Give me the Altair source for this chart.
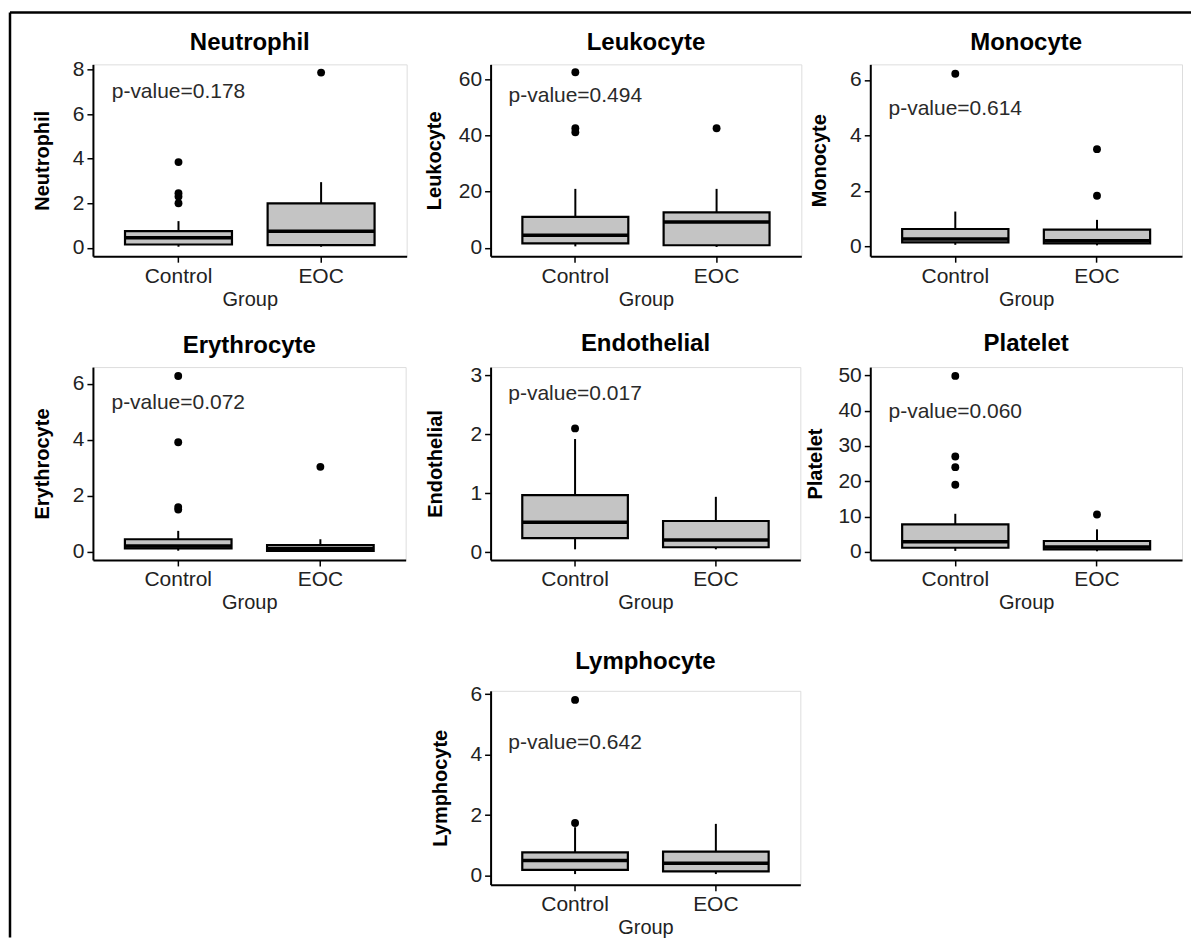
import altair as alt
import pandas as pd

FONT = "Liberation Sans"

markers = ["Neutrophil", "Leukocyte", "Monocyte", "Erythrocyte",
           "Endothelial", "Platelet", "Lymphocyte"]
groups = ["Control", "EOC"]

# box statistics, [Control, EOC]
whisker_low = {"Neutrophil": [0.05, 0.05], "Leukocyte": [0.5, 0.3], "Monocyte": [0.05, 0.03],
               "Erythrocyte": [0.03, 0.0], "Endothelial": [0.05, 0.05], "Platelet": [0.3, 0.2],
               "Lymphocyte": [0.05, 0.05]}
q1 = {"Neutrophil": [0.15, 0.12], "Leukocyte": [1.6, 0.9], "Monocyte": [0.14, 0.1],
      "Erythrocyte": [0.11, 0.02], "Endothelial": [0.24, 0.085], "Platelet": [1.2, 0.75],
      "Lymphocyte": [0.19, 0.14]}
median = {"Neutrophil": [0.45, 0.75], "Leukocyte": [4.5, 9.2], "Monocyte": [0.26, 0.2],
          "Erythrocyte": [0.2, 0.1], "Endothelial": [0.51, 0.21], "Platelet": [2.9, 1.4],
          "Lymphocyte": [0.5, 0.41]}
q3 = {"Neutrophil": [0.75, 2.0], "Leukocyte": [11.0, 12.6], "Monocyte": [0.62, 0.6],
      "Erythrocyte": [0.44, 0.23], "Endothelial": [0.97, 0.53], "Platelet": [7.8, 3.1],
      "Lymphocyte": [0.77, 0.79]}
whisker_high = {"Neutrophil": [1.2, 2.95], "Leukocyte": [21.0, 21.0], "Monocyte": [1.25, 0.95],
                "Erythrocyte": [0.74, 0.44], "Endothelial": [1.92, 0.94], "Platelet": [10.8, 6.4],
                "Lymphocyte": [1.6, 1.71]}
outliers_control = {"Neutrophil": [3.85, 2.45, 2.3, 2.0], "Leukocyte": [62.6, 42.6, 41.2],
                    "Monocyte": [6.22], "Erythrocyte": [6.28, 3.91, 1.59, 1.5],
                    "Endothelial": [2.1], "Platelet": [49.8, 27.0, 24.0, 19.0],
                    "Lymphocyte": [5.81, 1.74]}
outliers_eoc = {"Neutrophil": [7.87], "Leukocyte": [42.6], "Monocyte": [3.5, 1.82],
                "Erythrocyte": [3.03], "Endothelial": [], "Platelet": [10.6], "Lymphocyte": []}

p_values = {"Neutrophil": "0.178", "Leukocyte": "0.494", "Monocyte": "0.614",
            "Erythrocyte": "0.072", "Endothelial": "0.017", "Platelet": "0.060",
            "Lymphocyte": "0.642"}
p_label_y = {"Neutrophil": 7.0, "Leukocyte": 54.0, "Monocyte": 4.95, "Erythrocyte": 5.3,
             "Endothelial": 2.68, "Platelet": 39.7, "Lymphocyte": 4.4}

y_domains = {"Neutrophil": [-0.375, 8.24], "Leukocyte": [-3.0, 65.4], "Monocyte": [-0.36, 6.56],
             "Erythrocyte": [-0.30, 6.6], "Endothelial": [-0.13, 3.14], "Platelet": [-2.25, 52.3],
             "Lymphocyte": [-0.30, 6.11]}
y_ticks = {"Neutrophil": [0, 2, 4, 6, 8], "Leukocyte": [0, 20, 40, 60], "Monocyte": [0, 2, 4, 6],
           "Erythrocyte": [0, 2, 4, 6], "Endothelial": [0, 1, 2, 3],
           "Platelet": [0, 10, 20, 30, 40, 50], "Lymphocyte": [0, 2, 4, 6]}

panel_w = {"Neutrophil": 314, "Leukocyte": 311, "Monocyte": 312, "Erythrocyte": 313,
           "Endothelial": 310, "Platelet": 312, "Lymphocyte": 310}
panel_h = {"Neutrophil": 192, "Leukocyte": 192, "Monocyte": 192, "Erythrocyte": 193,
           "Endothelial": 193, "Platelet": 193, "Lymphocyte": 194}
title_dy = {"Neutrophil": 5, "Leukocyte": 0, "Monocyte": 0, "Erythrocyte": 0,
            "Endothelial": 1, "Platelet": 1, "Lymphocyte": 0}
ytitle_pad = {"Neutrophil": 20, "Leukocyte": 14, "Monocyte": 20, "Erythrocyte": 20,
              "Endothelial": 24, "Platelet": 12, "Lymphocyte": 19}


def panel(m):
    box = pd.DataFrame({"group": groups, "lo": whisker_low[m], "q1": q1[m],
                        "med": median[m], "q3": q3[m], "hi": whisker_high[m]})
    out = pd.DataFrame({"group": ["Control"] * len(outliers_control[m]) + ["EOC"] * len(outliers_eoc[m]),
                        "value": outliers_control[m] + outliers_eoc[m]})
    lab = pd.DataFrame({"group": ["Control"], "y": [p_label_y[m]],
                        "label": ["p-value=" + p_values[m]]})

    xscale = alt.Scale(type="band", domain=groups, paddingInner=0.25, paddingOuter=0.225)
    yscale = alt.Scale(domain=y_domains[m], nice=False, zero=False)
    xaxis = alt.Axis(title="Group", labelAngle=0, grid=False, domainColor="black", domainWidth=2,
                     tickColor="black", tickWidth=1.5, tickSize=6, labelFont=FONT, labelFontSize=21,
                     labelColor="#222222", labelPadding=3, titleFont=FONT, titleFontSize=20,
                     titleFontWeight="normal", titleColor="#222222", titlePadding=3)
    yaxis = alt.Axis(title=m, values=y_ticks[m], grid=False, domainColor="black", domainWidth=2,
                     tickColor="black", tickWidth=1.5, tickSize=6, labelFont=FONT, labelFontSize=21,
                     labelColor="#222222", labelPadding=3, titleFont=FONT, titleFontSize=20,
                     titleFontWeight="bold", titleColor="black", titlePadding=ytitle_pad[m])

    def X():
        return alt.X("group:N", scale=xscale, axis=xaxis)

    def Y(field):
        return alt.Y(field, type="quantitative", scale=yscale, axis=yaxis)

    whisk = alt.Chart(box).mark_rule(color="black", strokeWidth=2).encode(
        x=X(), y=Y("lo"), y2="hi:Q")
    rect = alt.Chart(box).mark_bar(fill="#c4c4c4", stroke="black", strokeWidth=2.2).encode(
        x=X(), y=Y("q1"), y2="q3:Q")
    med = alt.Chart(box).mark_bar(fill="black", stroke="black", strokeWidth=3.5).encode(
        x=X(), y=Y("med"), y2="med:Q")
    pts = alt.Chart(out).mark_circle(color="black", size=62, opacity=1).encode(
        x=X(), y=Y("value"))
    txt = alt.Chart(lab).mark_text(font=FONT, fontSize=21, color="#2a2a2a").encode(
        x=X(), y=Y("y"), text="label:N")

    return alt.layer(whisk, rect, med, pts, txt).properties(
        width=panel_w[m], height=panel_h[m],
        title=alt.TitleParams(text=m, font=FONT, fontSize=24, fontWeight="bold", color="black",
                              anchor="middle", frame="group", offset=9, dy=title_dy[m]))


def spacer(w, h, frame=False):
    base = alt.Chart(pd.DataFrame({"a": [0]}))
    layers = [base.mark_point(opacity=0).encode(x=alt.value(0), y=alt.value(0))]
    if frame:
        # outer figure frame (top and left edges), drawn relative to this cell
        layers.append(base.mark_rule(color="black", strokeWidth=2.5).encode(
            x=alt.value(-397), y=alt.value(-52), y2=alt.value(874)))
        layers.append(base.mark_rule(color="black", strokeWidth=2.5).encode(
            x=alt.value(-397), x2=alt.value(785), y=alt.value(-52)))
    return alt.layer(*layers).properties(width=w, height=h,
                                         view=alt.ViewBackground(stroke="transparent"))


# grid of 5 columns: panel | gap | panel | gap | panel
cells = [
    panel("Neutrophil"), spacer(84, 192, frame=True), panel("Leukocyte"), spacer(69, 192), panel("Monocyte"),
    panel("Erythrocyte"), spacer(84, 213), panel("Endothelial"), spacer(69, 193), panel("Platelet"),
    spacer(10, 194), spacer(10, 194), panel("Lymphocyte"),
]

chart = alt.concat(
    *cells, columns=5, align="each", bounds="flush",
    spacing=alt.RowColnumber(row=111, column=0),
).properties(
    padding={"left": 0, "top": 2, "right": 0, "bottom": 0}
).configure_view(
    stroke="#666666", strokeWidth=1.2
).configure(background="white")

chart.save("out.html", embed_options={"renderer": "svg", "actions": False})
